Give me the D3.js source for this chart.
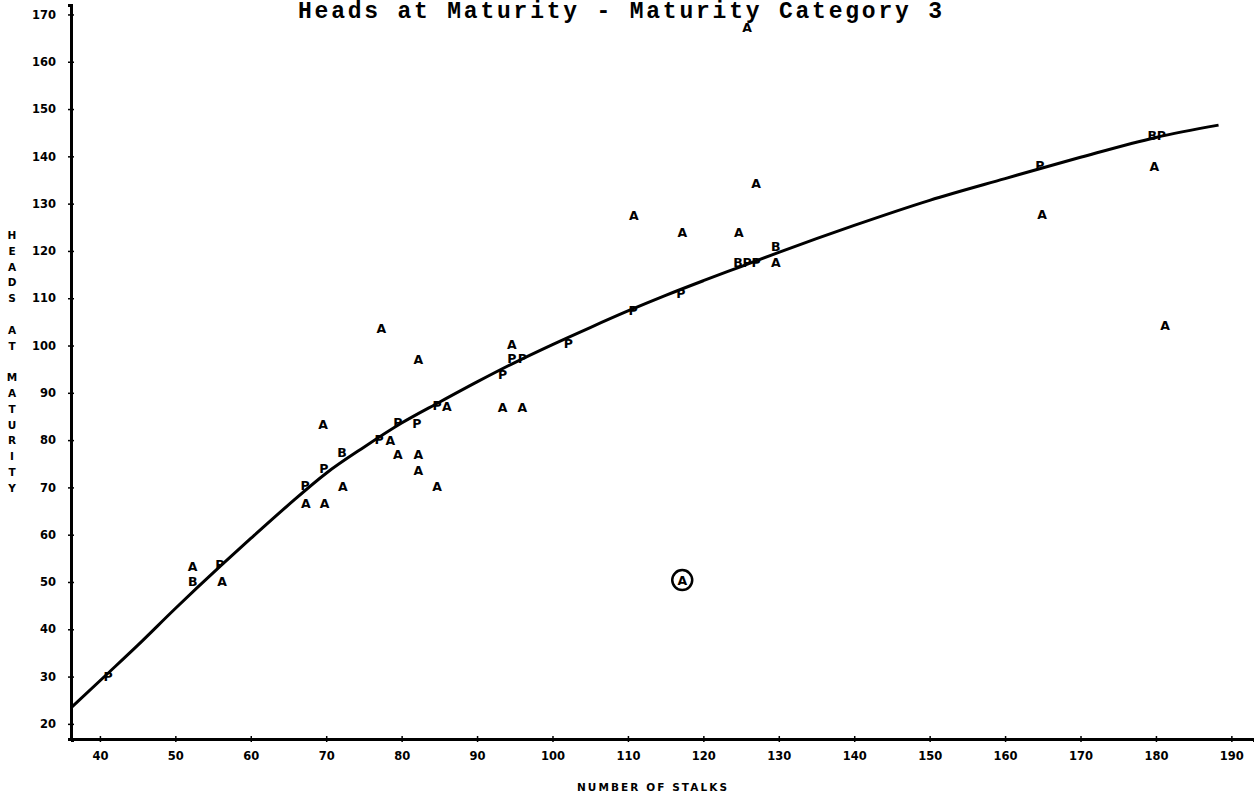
<!DOCTYPE html>
<html>
<head>
<meta charset="utf-8">
<script src="https://cdn.jsdelivr.net/npm/d3@7"></script>
<style>
  body { margin: 0; background: #fff; }
  svg { display: block; }
</style>
</head>
<body>
<div id="chart"></div>
<script>
// plotted symbols: A = 1 obs, B = 2 obs, P = predicted
const markX = [41.1, 52.3, 52.3, 55.9, 56.2, 67.2, 67.3, 69.6, 69.7, 69.8,
  72.1, 72.2, 77.3, 77.0, 78.5, 79.5, 79.5, 82.0, 82.2, 82.2,
  82.2, 84.7, 84.7, 86.0, 93.4, 93.4, 94.6, 94.6, 96.0, 96.0,
  102.1, 110.8, 110.7, 117.2, 117.0, 117.2, 125.8, 124.7, 124.6, 125.8,
  127.0, 127.0, 129.6, 129.6, 164.6, 164.9, 179.5, 180.7, 179.8, 181.2];
const markY = [30.1, 53.2, 50.0, 53.6, 50.0, 70.5, 66.7, 83.2, 73.9, 66.7,
  77.3, 70.1, 103.5, 80.2, 80.0, 83.8, 76.9, 83.6, 97.0, 76.9,
  73.5, 70.1, 87.4, 87.0, 93.8, 86.8, 100.3, 97.2, 97.2, 86.8,
  100.5, 127.4, 107.5, 124.0, 110.9, 50.4, 167.2, 124.0, 117.5, 117.5,
  117.5, 134.2, 121.0, 117.5, 138.0, 127.6, 144.5, 144.5, 137.8, 104.3];
const markSym = ["P", "A", "B", "P", "A", "P", "A", "A", "P", "A",
  "B", "A", "A", "P", "A", "P", "A", "P", "A", "A",
  "A", "A", "P", "A", "P", "A", "A", "P", "P", "A",
  "P", "A", "P", "A", "P", "A", "A", "A", "B", "P",
  "P", "A", "B", "A", "P", "A", "B", "P", "A", "A"];
const circledIndex = 35;

// fitted curve
const curveX = [36.3, 41, 45, 50, 56, 60, 65, 70, 75, 80, 85, 90, 95, 100,
  105, 110, 115, 120, 125, 130, 140, 150, 160, 170, 180, 188.3];
const curveY = [23.6, 30.6, 36.6, 44.4, 53.4, 59.2, 66.3, 73.0, 78.5, 83.6, 88.0, 92.3, 96.4, 100.2,
  103.8, 107.3, 110.6, 113.7, 116.7, 119.7, 125.4, 130.7, 135.3, 139.8, 144.0, 146.6];

const xTicks = [40, 50, 60, 70, 80, 90, 100, 110, 120, 130, 140, 150, 160, 170, 180, 190];
const yTicks = [20, 30, 40, 50, 60, 70, 80, 90, 100, 110, 120, 130, 140, 150, 160, 170];

const titleText = "Heads at Maturity - Maturity Category 3";
const xTitle = "NUMBER OF STALKS";
const yTitle = "HEADS AT MATURITY";

const width = 1254, height = 798;
const tickFont = "'DejaVu Sans', sans-serif";

const svg = d3.select("#chart").append("svg")
  .attr("width", width)
  .attr("height", height);

const x = d3.scaleLinear([36.3, 193], [72, 1254]);
const y = d3.scaleLinear([16.8, 172], [739, 5]);

// title
svg.append("text")
  .attr("x", 298)
  .attr("y", 18)
  .attr("textLength", 644)
  .attr("lengthAdjust", "spacing")
  .style("font-family", "'Liberation Mono', monospace")
  .style("font-weight", "bold")
  .style("font-size", "23px")
  .text(titleText);

// x axis
const xAxis = svg.append("g")
  .attr("transform", `translate(0,${y(16.8)})`)
  .call(d3.axisBottom(x).tickValues(xTicks).tickFormat(d3.format("d")).tickSize(3).tickPadding(10));
xAxis.select(".domain").attr("stroke-width", 3);
xAxis.selectAll(".tick line").attr("y1", -3).attr("stroke-width", 1.5);
xAxis.selectAll(".tick text")
  .style("font-family", tickFont)
  .style("font-weight", "bold")
  .style("font-size", "11.5px");

// y axis
const yAxis = svg.append("g")
  .attr("transform", `translate(${x(36.3) - 1},0)`)
  .call(d3.axisLeft(y).tickValues(yTicks).tickFormat(d3.format("d")).tickSize(3).tickPadding(12));
yAxis.select(".domain").attr("stroke-width", 3);
yAxis.selectAll(".tick line").attr("x1", 3).attr("stroke-width", 1.5);
yAxis.selectAll(".tick text")
  .style("font-family", tickFont)
  .style("font-weight", "bold")
  .style("font-size", "11.5px");

// axis titles
svg.append("text")
  .attr("x", 652)
  .attr("y", 791)
  .attr("text-anchor", "middle")
  .attr("textLength", 150)
  .attr("lengthAdjust", "spacing")
  .style("font-family", tickFont)
  .style("font-weight", "bold")
  .style("font-size", "10.5px")
  .text(xTitle);

svg.append("g")
  .selectAll("text")
  .data(yTitle.split(""))
  .join("text")
    .attr("x", 12)
    .attr("y", (d, i) => 239 + i * 15.8)
    .attr("text-anchor", "middle")
    .style("font-family", tickFont)
    .style("font-weight", "bold")
    .style("font-size", "10.5px")
    .text(d => d === " " ? "" : d);

// fitted curve
const line = d3.line()
  .x(d => x(d[0]))
  .y(d => y(d[1]))
  .curve(d3.curveMonotoneX);
svg.append("path")
  .datum(d3.zip(curveX, curveY))
  .attr("fill", "none")
  .attr("stroke", "#000")
  .attr("stroke-width", 3)
  .attr("d", line);

// plotted letters
svg.append("g")
  .selectAll("text")
  .data(markSym.map((s, i) => ({x: markX[i], y: markY[i], s: s})))
  .join("text")
    .attr("x", d => x(d.x))
    .attr("y", d => y(d.y))
    .attr("dy", "0.36em")
    .attr("text-anchor", "middle")
    .style("font-family", tickFont)
    .style("font-weight", "bold")
    .style("font-size", "12.5px")
    .text(d => d.s);

svg.append("circle")
  .attr("cx", x(markX[circledIndex]))
  .attr("cy", y(markY[circledIndex]))
  .attr("r", 10)
  .attr("fill", "none")
  .attr("stroke", "#000")
  .attr("stroke-width", 2.5);
</script>
</body>
</html>
